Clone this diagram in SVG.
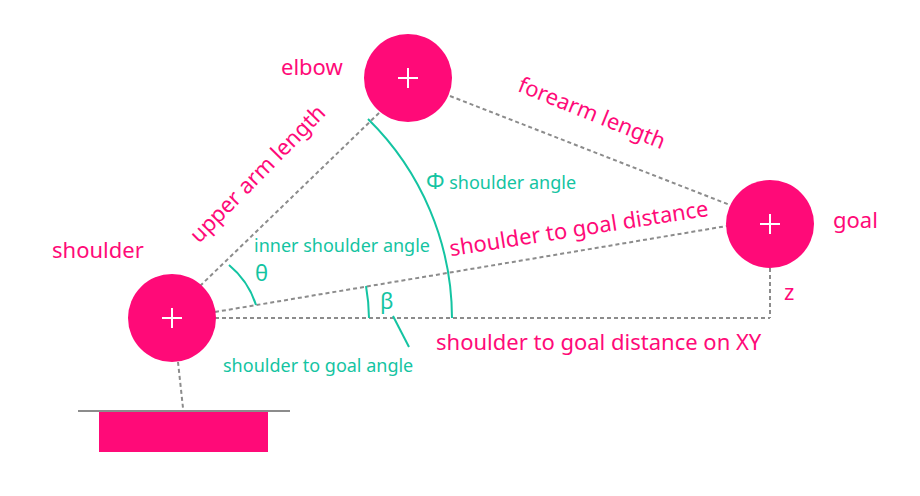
<svg xmlns="http://www.w3.org/2000/svg" width="920" height="496" viewBox="0 0 920 496">
<style>
.d{stroke:#8c8c8c;stroke-width:2;stroke-dasharray:4 3;fill:none}
.a{stroke:#14c4a2;stroke-width:2;fill:none}
.j{fill:#ff0a78}
.p{stroke:#fff;stroke-width:2}
.pk{fill:#ff0a78;font-family:"Noto Sans",sans-serif;font-size:22px}
.gr{fill:#14c4a2;font-family:"Noto Sans",sans-serif;font-size:18px}
</style>
<rect width="920" height="496" fill="#fff"/>
<g id="connectors">
<line class="d" x1="200" y1="286" x2="380" y2="112"/>
<line class="d" x1="450" y1="96" x2="730" y2="205"/>
<line class="d" x1="215" y1="312" x2="727" y2="226"/>
<line class="d" x1="215" y1="318" x2="770" y2="318"/>
<line class="d" x1="770" y1="268" x2="770" y2="318"/>
<line class="d" x1="178" y1="362" x2="183" y2="408"/>
</g>
<g id="angles">
<path class="a" d="M229,265 A85,85 0 0 1 256,305"/>
<path class="a" d="M366,286 A197,197 0 0 1 369,318"/>
<path class="a" d="M368,119 A280,280 0 0 1 452,318"/>
<line class="a" x1="393" y1="316" x2="409" y2="347"/>
</g>
<g id="base">
<line x1="78" y1="411" x2="290" y2="411" stroke="#8c8c8c" stroke-width="2"/>
<rect class="j" x="99" y="412" width="169" height="40"/>
</g>
<g id="shoulder"><circle class="j" cx="172" cy="318" r="44"/><path class="p" d="M162,318h20M172,308v20"/><text class="pk" x="52" y="258">shoulder</text></g>
<g id="elbow"><circle class="j" cx="408" cy="78" r="44"/><path class="p" d="M398,78h20M408,68v20"/><text class="pk" x="281" y="75">elbow</text></g>
<g id="goal"><circle class="j" cx="770" cy="224" r="44"/><path class="p" d="M760,224h20M770,214v20"/><text class="pk" x="833" y="228">goal</text></g>
<g id="labels">
<text class="pk" text-anchor="middle" transform="translate(263,179) rotate(-45.5)">upper arm length</text>
<text class="pk" text-anchor="middle" transform="translate(589,120) rotate(22)">forearm length</text>
<text class="pk" text-anchor="middle" transform="translate(580,236) rotate(-8.9)">shoulder to goal distance</text>
<text class="pk" x="436" y="350">shoulder to goal distance on XY</text>
<text class="pk" x="784" y="300">z</text>
<text class="gr" x="254" y="252">inner shoulder angle</text>
<text class="gr" x="255" y="281" style="font-size:22px">θ</text>
<text class="gr" x="380" y="309" style="font-size:22px">β</text>
<text class="gr" x="426" y="189"><tspan style="font-size:22px">Φ</tspan> shoulder angle</text>
<text class="gr" x="223" y="372">shoulder to goal angle</text>
</g>
</svg>
